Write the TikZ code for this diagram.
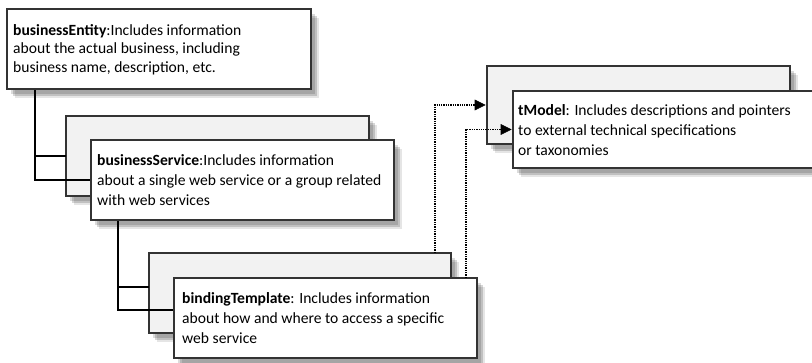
\documentclass[tikz,border=0pt]{standalone}
\usepackage{fontspec}
\setmainfont{Carlito}
\usetikzlibrary{shadows}
\pgfdeclarelayer{backcards}
\pgfdeclarelayer{treelines}
\pgfsetlayers{backcards,treelines,main}
\begin{document}
\begin{tikzpicture}[x=1pt,y=-1pt,
  soft shadow/.style={
    drop shadow={shadow xshift=4pt,shadow yshift=-5pt,fill=black,opacity=.14},
    drop shadow={shadow xshift=6pt,shadow yshift=-7pt,fill=black,opacity=.16},
    drop shadow={shadow xshift=8pt,shadow yshift=-9pt,fill=black,opacity=.10}},
  card/.style={draw=black!80, line width=1.1pt, rectangle, inner sep=0pt,
    outer sep=0pt, anchor=north west, soft shadow},
  frontcard/.style={card, fill=white},
  backcard/.style={card, fill=black!5},
  txt/.style={anchor=north west, inner sep=0pt, align=left,
    font=\fontsize{15.6}{20}\selectfont},
  tree/.style={line width=1.4pt, draw=black},
  refline/.style={line width=1.3pt, draw=black, densely dotted},
  refhead/.style={fill=black, draw=black, line width=0.6pt, line join=miter}
]
\useasboundingbox (0,0) rectangle (812,363);
\clip (0,0) rectangle (812,363);

% back cards
\begin{pgfonlayer}{backcards}
\node[backcard, minimum width=303pt, minimum height=80pt] (bsb) at (66,116) {};
\node[backcard, minimum width=302pt, minimum height=80pt] (btb) at (149,253) {};
\node[backcard, minimum width=303pt, minimum height=78pt] (tmb) at (487,66) {};
\end{pgfonlayer}

% front cards with their descriptions
\node[frontcard, minimum width=304pt, minimum height=80pt] (be) at (7,9) {};
\node[txt, font=\fontsize{15.6}{18.5}\selectfont] (beT) at (13,24) {\textbf{businessEntity}:Includes information\\about the actual business, including\\business name, description, etc.};

\node[frontcard, minimum width=303pt, minimum height=80pt] (bsf) at (91,140) {};
\node[txt] (bsT) at (97,154) {\textbf{businessService}:Includes information\\about a single web service or a group related\\with web services};

\node[frontcard, minimum width=303pt, minimum height=80pt] (btf) at (174,278) {};
\node[txt] (btT) at (182,292) {\textbf{bindingTemplate}: Includes information\\about how and where to access a specific\\web service};

\node[frontcard, minimum width=310pt, minimum height=77pt] (tmf) at (513,91) {};
\node[txt] (tmT) at (518,104) {\textbf{tModel}: Includes descriptions and pointers\\to external technical specifications\\or taxonomies};

% containment tree
\begin{pgfonlayer}{treelines}
\coordinate (t1) at ([xshift=28pt]be.south west);
\draw[tree] (t1) |- (bsf.west);
\draw[tree] (t1 |- bsb.west) -- (bsb.west);
\coordinate (t2) at ([xshift=27pt]bsf.south west);
\coordinate (btbIn) at ([yshift=6pt]btb.west);
\coordinate (btfIn) at ([yshift=8pt]btf.west);
\draw[tree] (t2) |- (btfIn);
\draw[tree] (t2 |- btbIn) -- (btbIn);
\end{pgfonlayer}

% references to tModel: dotted run ending in a solid triangular head
\coordinate (r1) at ([xshift=-16pt]btb.north east);
\coordinate (r2) at ([xshift=-11pt]btf.north east);
\coordinate (a1) at ([xshift=-2pt]tmb.west);
\coordinate (a2) at ([xshift=-2pt]tmf.west);
\coordinate (h1) at ([xshift=-12pt]tmb.west);
\coordinate (h2) at ([xshift=-12pt]tmf.west);
\draw[refline] (r1) |- (h1);
\draw[refline] (r2) |- (h2);
\filldraw[refhead] (a1) -- ([yshift=5pt]h1) -- ([yshift=-5pt]h1) -- cycle;
\filldraw[refhead] (a2) -- ([yshift=5pt]h2) -- ([yshift=-5pt]h2) -- cycle;
\end{tikzpicture}
\end{document}
